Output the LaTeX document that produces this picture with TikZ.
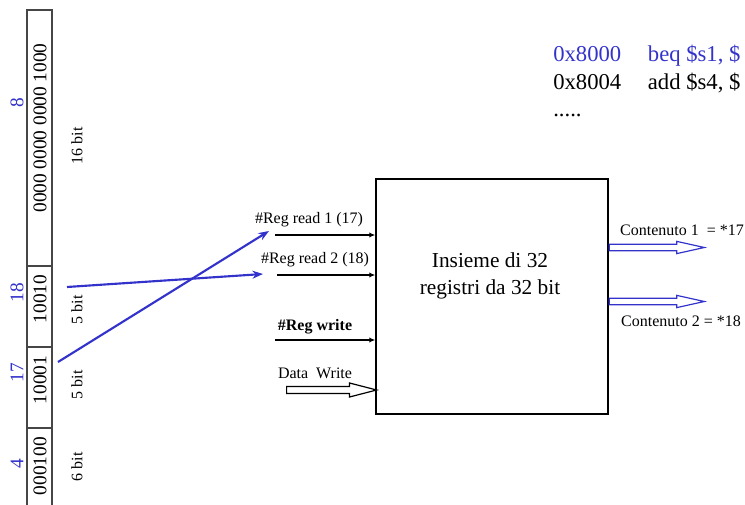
\documentclass[tikz,border=0pt]{standalone}
\usepackage{fontspec}
\setmainfont{Liberation Serif}
\usetikzlibrary{shapes.arrows, arrows.meta}
\definecolor{regblue}{RGB}{51,51,204}
\definecolor{cellgray}{RGB}{70,70,70}

\begin{document}
\begin{tikzpicture}[x=0.75pt,y=0.75pt,yscale=-1,xscale=1,
  lbl/.style={inner sep=0.75pt, font=\fontsize{12}{14}\selectfont},
  binlbl/.style={rotate=90, inner sep=0.75pt, font=\fontsize{14.5}{16}\selectfont},
  numlbl/.style={binlbl, text=regblue},
  bitlbl/.style={rotate=90, inner sep=0.75pt, font=\fontsize{12}{14}\selectfont},
  prog/.style={anchor=base west, inner sep=0.75pt, font=\fontsize{17}{20}\selectfont},
  inarrow/.style={line width=1.5pt, -{Latex[length=4.5pt,width=4pt]}},
  fieldarrow/.style={regblue, line width=1.6pt, -{Stealth[length=8pt,width=6pt]}},
  blockarrow/.style={single arrow, draw, line width=0.9pt, fill=white, inner xsep=0pt, minimum width=0pt, anchor=tail},
]
\useasboundingbox (0,0) rectangle (745,505);

%Instruction fields
\draw [cellgray, line width=0.8pt] (27,505) -- (27,10) -- (52,10) -- (52,505) ;
\foreach \y in {266,347,428}
  \draw [cellgray, line width=0.8pt] (27,\y) -- (52,\y) ;

% Text Node
\node [binlbl] (imm) at (40,128) {0000 0000 0000 1000};
\node [numlbl] (immval) at (17,103) {8};
\node [bitlbl] (immbits) at (77,146) {16 bit};
% Text Node
\node [binlbl] (rt) at (40,299) {10010};
\node [numlbl] (rtval) at (17,293) {18};
\node [bitlbl] (rtbits) at (77,310) {5 bit};
% Text Node
\node [binlbl] (rs) at (40,380) {10001};
\node [numlbl] (rsval) at (17,373) {17};
\node [bitlbl] (rsbits) at (77,385) {5 bit};
% Text Node
\node [binlbl] (op) at (40,466) {000100};
\node [numlbl] (opval) at (17,464) {4};
\node [bitlbl] (opbits) at (77,467) {6 bit};

%Register file
\node [draw, line width=1.1pt, minimum width=174pt, minimum height=176.25pt, inner sep=0pt] (rf) at (492,296.5) {};
\node [align=center, inner sep=0.75pt, font=\fontsize{16}{20}\selectfont] (rftext) at (490,276) {Insieme di 32\\ registri da 32 bit};

%Inputs
\coordinate (read1) at (275,235);
\coordinate (read2) at (277,275);
\coordinate (write) at (275,340);
\draw [inarrow] (read1) -- (read1 -| rf.west) ;
\draw [inarrow] (read2) -- (read2 -| rf.west) ;
\draw [inarrow] (write) -- (write -| rf.west) ;
\node [blockarrow, inner ysep=2.2pt, minimum height=67.5pt, single arrow head extend=2.6pt, single arrow tip angle=29] (data) at (286,390) {};

% Text Node
\node [lbl] (read1lbl) at (309,220) {\#Reg read 1 (17)};
\node [lbl] (read2lbl) at (315,260) {\#Reg read 2 (18)};
\node [lbl, font=\fontsize{12}{14}\selectfont\bfseries] (writelbl) at (315,327) {\#Reg write};
\node [lbl] (datalbl) at (315,373) {Data~ Write};

%Fields to register numbers
\coordinate (rtout) at (67,287);
\coordinate (rsout) at (58,362);
\coordinate (read2in) at (263,274);
\coordinate (read1in) at (269,231);
\draw [fieldarrow] (rtout) -- (read2in) ;
\draw [fieldarrow] (rsout) -- (read1in) ;

%Outputs
\node [blockarrow, draw=regblue, inner ysep=2.05pt, minimum height=71.25pt, single arrow head extend=2.1pt, single arrow tip angle=25] (out1) at (rf.east |- 0,247.5) {};
\node [blockarrow, draw=regblue, inner ysep=2.05pt, minimum height=71.25pt, single arrow head extend=2.1pt, single arrow tip angle=25] (out2) at (rf.east |- 0,301.5) {};
% Text Node
\node [lbl] (out1lbl) at (682,230) {Contenuto 1~ = *17};
\node [lbl] (out2lbl) at (681,321) {Contenuto 2 = *18};

%Program
\node [prog, text=regblue] (pc1) at (552,62) {0x8000\hspace{20pt}beq \$s1, \$};
\node [prog] (pc2) at (552,90) {0x8004\hspace{20pt}add \$s4, \$};
\node [prog] (pc3) at (552,117) {.....};

\end{tikzpicture}
\end{document}
